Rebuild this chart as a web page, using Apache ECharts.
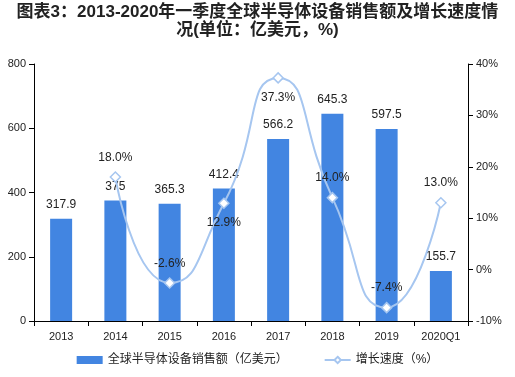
<!DOCTYPE html>
<html>
<head>
<meta charset="utf-8">
<script src="https://cdn.jsdelivr.net/npm/echarts@6/dist/echarts.min.js"></script>
<style>
html,body{margin:0;padding:0;background:#fff;}
#wrap{position:relative;width:515px;height:377px;}
#chart{width:515px;height:377px;}
#title{position:absolute;left:0;top:3px;width:515px;text-align:center;
  font:bold 17px Arial,"Noto Sans CJK SC",sans-serif;color:#222;line-height:18px;}
</style>
</head>
<body>
<div id="wrap">
<div id="chart"></div>
<div id="title">图表3：2013-2020年一季度全球半导体设备销售额及增长速度情<br>况(单位：亿美元，%)</div>
</div>
<script>
// 数据
const years = ['2013', '2014', '2015', '2016', '2017', '2018', '2019', '2020Q1'];
const sales = [317.9, 375, 365.3, 412.4, 566.2, 645.3, 597.5, 155.7];
const growth = [null, 18.0, -2.6, 12.9, 37.3, 14.0, -7.4, 13.0];
// 增长率标签位置
const growthLabelPos = ['top', 'top', 'top', 'bottom', 'bottom', 'top', 'top', 'top'];
const leftTicks = [0, 800, 200];
const rightTicks = [-10, 40, 10];

const chart = echarts.init(document.getElementById('chart'));

const font = 'Arial, "Noto Sans CJK SC", sans-serif';

chart.setOption({
    animation: false,
    legend: {
        bottom: 6,
        left: 'center',
        itemGap: 36,
        itemWidth: 26,
        itemHeight: 8,
        textStyle: { fontSize: 12, color: '#222', fontFamily: font },
        data: [
            { name: '全球半导体设备销售额（亿美元）', icon: 'rect' },
            { name: '增长速度（%）' }
        ]
    },
    grid: { left: 34, right: 47, top: 64, bottom: 56 },
    xAxis: {
        type: 'category',
        data: years,
        axisLine: { lineStyle: { color: '#000' } },
        axisTick: { show: true, alignWithLabel: false, lineStyle: { color: '#000' } },
        axisLabel: { color: '#222', fontSize: 11, fontFamily: font, margin: 10 }
    },
    yAxis: [
        {
            type: 'value',
            min: leftTicks[0], max: leftTicks[1], interval: leftTicks[2],
            axisLine: { show: true, lineStyle: { color: '#000' } },
            axisTick: { show: true, lineStyle: { color: '#000' } },
            splitLine: { show: false },
            axisLabel: { color: '#222', fontSize: 11, fontFamily: font }
        },
        {
            type: 'value',
            min: rightTicks[0], max: rightTicks[1], interval: rightTicks[2],
            axisLine: { show: true, lineStyle: { color: '#000' } },
            axisTick: { show: true, lineStyle: { color: '#000' } },
            splitLine: { show: false },
            axisLabel: { color: '#222', fontSize: 11, fontFamily: font, formatter: '{value}%' }
        }
    ],
    series: [
        {
            name: '全球半导体设备销售额（亿美元）',
            type: 'bar',
            data: sales,
            barWidth: 22,
            itemStyle: { color: '#4285e1' },
            label: {
                show: true,
                position: 'top',
                distance: 8,
                color: '#222',
                fontSize: 12,
                fontFamily: font
            }
        },
        {
            name: '增长速度（%）',
            type: 'line',
            yAxisIndex: 1,
            smooth: 0.6,
            data: growth.map((v, i) => ({
                value: v,
                label: { position: growthLabelPos[i] }
            })),
            symbol: 'diamond',
            symbolSize: 10,
            lineStyle: { color: '#a6c6f0', width: 2 },
            itemStyle: { color: '#fff', borderColor: '#a6c6f0', borderWidth: 1.5 },
            label: {
                show: true,
                distance: 8,
                color: '#222',
                fontSize: 12,
                fontFamily: font,
                formatter: p => p.value.toFixed(1) + '%'
            },
            z: 5
        }
    ]
});
</script>
</body>
</html>
